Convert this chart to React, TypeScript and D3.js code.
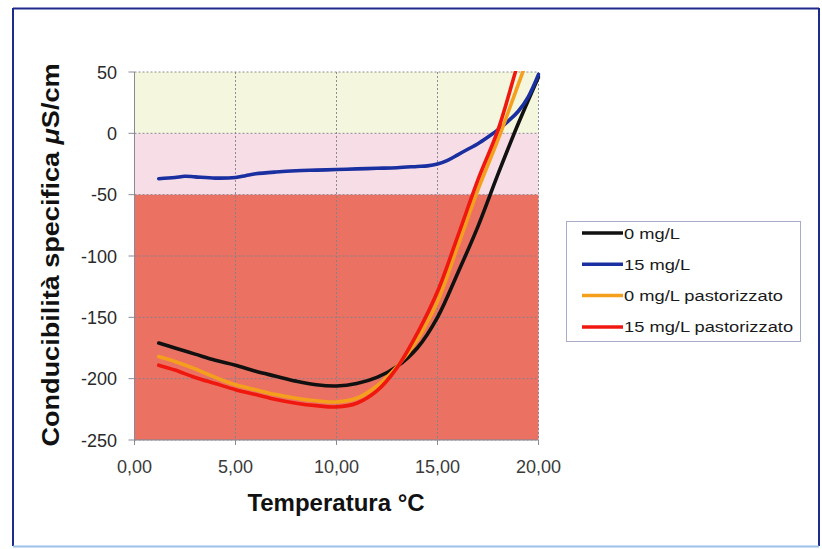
import React from "react";
import * as d3 from "d3";

const yTicks = [50, 0, -50, -100, -150, -200, -250];
const xTicks = [0, 5, 10, 15, 20];
const xTickLabels = ["0,00", "5,00", "10,00", "15,00", "20,00"];

const bandStops = [50, 0, -50, -250];
const bandColors = ["#f4f6dd", "#f7dee6", "#eb7262"];

const tempX = [1.2, 2, 3, 4, 5, 6, 7, 8, 9, 10, 11, 12, 13, 14, 15, 16, 17, 18, 19, 20];
const black0 = [-171, -175, -180, -185, -189, -194, -198, -202, -205, -206, -204, -199, -190, -175, -150, -114, -76, -33, 8, 46];
const orange0p = [-182, -186, -192, -199, -205, -209, -213, -216, -218, -219, -216, -206, -190, -168, -137, -92, -46, -5, 40, 85];
const red15p = [-189, -193, -199, -204, -209, -213, -217, -220, -222, -223, -220, -210, -191, -163, -129, -84, -38, 3, 58, 110];

const blueX = [1.2, 2, 2.5, 3, 4, 5, 5.5, 6, 7, 8, 9, 10, 11, 12, 13, 14, 14.5, 15, 15.5, 16, 16.5, 17, 17.5, 18, 18.5, 19, 19.5, 20];
const blue15 = [-37, -36, -35, -35.5, -36.5, -36, -34.5, -33, -31.5, -30.5, -30, -29.5, -29, -28.5, -28, -27, -26.5, -25, -22, -17.5, -13, -8.5, -3, 3, 10, 18, 30, 48];

const seriesNames = ["0 mg/L", "15 mg/L", "0 mg/L pastorizzato", "15 mg/L pastorizzato"];
const seriesColors = ["#111111", "#1a2fa0", "#f5a01c", "#f0180e"];

export default function App() {
  const x = d3.scaleLinear().domain([0, 20]).range([134.5, 538.5]);
  const y = d3.scaleLinear().domain([-250, 50]).range([440, 72]);

  const series = [
    { xs: tempX, ys: black0 },
    { xs: blueX, ys: blue15 },
    { xs: tempX, ys: orange0p },
    { xs: tempX, ys: red15p },
  ];

  const line = d3
    .line<[number, number]>()
    .x((d) => x(d[0]))
    .y((d) => y(d[1]))
    .curve(d3.curveCatmullRom.alpha(0.5));

  const font = "'Liberation Sans', Arial, sans-serif";
  const drawOrder = [0, 1, 2, 3];

  return (
    <svg
      width={822}
      height={549}
      style={{ position: "absolute", left: 0, top: 0, background: "#fff" }}
      fontFamily={font}
    >
      <defs>
        <clipPath id="plotClip">
          <rect x={x(0)} y={y(50) - 1} width={x(20) - x(0) + 2} height={y(-250) - y(50) + 1} />
        </clipPath>
      </defs>
      {/* frame */}
      <line x1={13} y1={8.5} x2={819} y2={8.5} stroke="#1e2a8c" strokeWidth={2} />
      <line x1={13} y1={8} x2={13} y2={546} stroke="#1e2a8c" strokeWidth={2} />
      <line x1={819} y1={8} x2={819} y2={546} stroke="#1e2a8c" strokeWidth={2} />
      <line x1={13} y1={546.5} x2={819} y2={546.5} stroke="#9cc0ea" strokeWidth={2} />

      {/* bands */}
      {bandColors.map((c, i) => (
        <rect
          key={i}
          x={x(0)}
          y={y(bandStops[i])}
          width={x(20) - x(0)}
          height={y(bandStops[i + 1]) - y(bandStops[i])}
          fill={c}
        />
      ))}

      {/* grid */}
      {yTicks.map((t) => (
        <line key={"gy" + t} x1={x(0)} x2={x(20)} y1={y(t)} y2={y(t)} stroke="#80808c" strokeWidth={0.9} strokeDasharray="2,2" />
      ))}
      {xTicks.slice(1).map((t) => (
        <line key={"gx" + t} x1={x(t)} x2={x(t)} y1={y(50)} y2={y(-250)} stroke="#80808c" strokeWidth={0.9} strokeDasharray="2,2" />
      ))}

      {/* axes */}
      <line x1={x(0)} x2={x(0)} y1={y(50)} y2={y(-250)} stroke="#8a8a96" strokeWidth={1} />
      <line x1={x(0)} x2={x(20)} y1={y(-250)} y2={y(-250)} stroke="#8a8a96" strokeWidth={1} />
      {yTicks.map((t) => (
        <g key={"yt" + t}>
          <line x1={x(0) - 6} x2={x(0)} y1={y(t)} y2={y(t)} stroke="#8a8a96" strokeWidth={1} />
          <text x={117} y={y(t) + 6.5} textAnchor="end" fontSize={18} fill="#2a2a2a">
            {t}
          </text>
        </g>
      ))}
      {xTicks.map((t, i) => (
        <g key={"xt" + t}>
          <line x1={x(t)} x2={x(t)} y1={y(-250)} y2={y(-250) + 5} stroke="#8a8a96" strokeWidth={1} />
          <text x={x(t)} y={473} textAnchor="middle" fontSize={18} fill="#3a3a3a">
            {xTickLabels[i]}
          </text>
        </g>
      ))}

      {/* series */}
      <g clipPath="url(#plotClip)">
        {drawOrder.map((i) => {
          const s = series[i];
          const pts = s.xs.map((v, k) => [v, s.ys[k]] as [number, number]);
          return (
            <path
              key={"s" + i}
              d={line(pts) || ""}
              fill="none"
              stroke={seriesColors[i]}
              strokeWidth={3.6}
              strokeLinejoin="round"
              strokeLinecap="round"
            />
          );
        })}
      </g>

      {/* axis titles */}
      <text
        transform="translate(59,255) rotate(-90)"
        textAnchor="middle"
        fontSize={24}
        fontWeight="bold"
        fill="#111"
        textLength={383}
        lengthAdjust="spacingAndGlyphs"
      >
        Conducibilità specifica <tspan fontStyle="italic">μ</tspan>S/cm
      </text>
      <text x={336} y={511} textAnchor="middle" fontSize={24} fontWeight="bold" fill="#111">
        Temperatura °C
      </text>

      {/* legend */}
      <rect x={566.5} y={221.5} width={234} height={120} fill="#fff" stroke="#a8acc8" strokeWidth={1} />
      {seriesNames.map((n, i) => {
        const ly = 233 + i * 31.3;
        return (
          <g key={"lg" + i}>
            <line x1={582} x2={623} y1={ly} y2={ly} stroke={seriesColors[i]} strokeWidth={3.5} />
            <g transform={`translate(624,${ly + 5.5}) scale(1.22,1)`}>
              <text x={0} y={0} fontSize={15} fill="#1a1a1a">
                {n}
              </text>
            </g>
          </g>
        );
      })}
    </svg>
  );
}
